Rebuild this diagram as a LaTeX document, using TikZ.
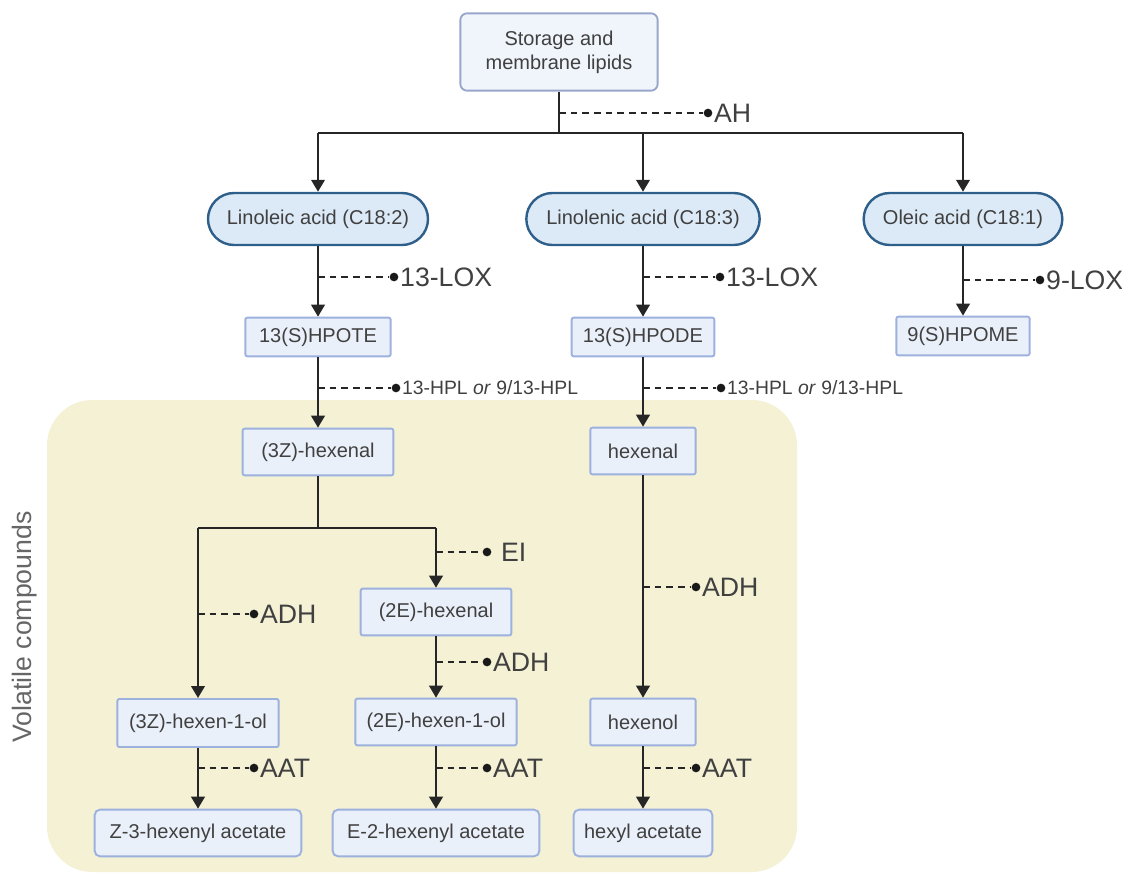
\documentclass[tikz,border=0pt]{standalone}
\usepackage{fontspec}
\setmainfont{Liberation Sans}
\usetikzlibrary{arrows.meta,positioning,shapes.misc}

\definecolor{cmpdfill}{HTML}{EAF0FA}
\definecolor{cmpdline}{HTML}{9CB1DE}
\definecolor{acidfill}{HTML}{DCE9F6}
\definecolor{acidline}{HTML}{2E5E8A}
\definecolor{volfill}{HTML}{F4F1D5}
\definecolor{labeltxt}{HTML}{404040}

\tikzset{
	cmpd/.style={draw=cmpdline, fill=cmpdfill, line width=1.4pt, rounded corners=1.5pt,
		inner sep=0pt, minimum height=29pt, text=labeltxt, font=\fontsize{15}{18}\selectfont},
	acid/.style={rounded rectangle, draw=acidline, fill=acidfill, line width=1.8pt,
		inner sep=0pt, minimum height=39pt, text=labeltxt, font=\fontsize{15}{18}\selectfont},
	flow/.style={draw=black!85, line width=2pt, -{Triangle[width=10pt,length=9pt]}},
	bar/.style={draw=black!85, line width=2pt},
	enzline/.style={draw=black!85, line width=1.6pt, dash pattern=on 5pt off 3.75pt},
	enzdot/.style={circle, fill=black!90, inner sep=0pt, minimum size=6.5pt},
	enz/.style={anchor=west, inner sep=0pt, text=labeltxt, font=\fontsize{20}{24}\selectfont},
	hpl/.style={anchor=west, inner sep=0pt, text=labeltxt, font=\fontsize{14.5}{17}\selectfont}
}

\begin{document}
\begin{tikzpicture}[x=0.75pt,y=-0.75pt]
		\useasboundingbox (0,0) rectangle (1122,874);

		% Volatile compounds background
		\fill[volfill, rounded corners=34pt] (47,400) rectangle (797,872);
		\node[rotate=90, text=black!60, font=\fontsize{20}{24}\selectfont] (vol) at (25,627) {Volatile compounds};

		% Lipids and fatty acids
		\node[cmpd, rounded corners=5pt, minimum width=148pt, minimum height=58pt, align=center,
			fill=cmpdfill!70, draw=cmpdline!80!gray] (lipids) at (559,52) {Storage and\\membrane lipids};

		\node[acid, minimum width=165pt] (linoleic) at (318,219) {Linoleic acid (C18:2)};
		\node[acid, minimum width=175pt] (linolenic) at (643,219) {Linolenic acid (C18:3)};
		\node[acid, minimum width=149pt] (oleic) at (963,219) {Oleic acid (C18:1)};

		% Hydroperoxides
		\node[cmpd, minimum width=109pt] (hpote) at (318,337) {13(S)HPOTE};
		\node[cmpd, minimum width=107pt] (hpode) at (643,337) {13(S)HPODE};
		\node[cmpd, minimum width=100pt] (hpome) at (963,336) {9(S)HPOME};

		% Aldehydes, alcohols, esters
		\node[cmpd, minimum width=113pt, minimum height=35pt] (zhexenal) at (318,452) {(3Z)-hexenal};
		\node[cmpd, minimum width=79pt, minimum height=35pt] (hexenal) at (643,451) {hexenal};
		\node[cmpd, minimum width=113pt, minimum height=35pt] (ehexenal) at (436,612) {(2E)-hexenal};
		\node[cmpd, minimum width=121pt, minimum height=36pt] (zhexenol) at (198,723) {(3Z)-hexen-1-ol};
		\node[cmpd, minimum width=121pt, minimum height=35pt] (ehexenol) at (436,722) {(2E)-hexen-1-ol};
		\node[cmpd, minimum width=79pt, minimum height=35pt] (hexenol) at (643,722) {hexenol};
		\node[cmpd, rounded corners=4pt, minimum width=155pt, minimum height=35pt] (zacet) at (198,833) {Z-3-hexenyl acetate};
		\node[cmpd, rounded corners=4pt, minimum width=155pt, minimum height=35pt] (eacet) at (436,833) {E-2-hexenyl acetate};
		\node[cmpd, rounded corners=4pt, minimum width=104pt, minimum height=35pt] (hacet) at (643,833) {hexyl acetate};

		% Branch points
		\coordinate (split) at (559,133);
		\coordinate (fork) at (318,528);

		% Connectors
		\draw[bar] (lipids.south) -- (split);
		\draw[bar] (linoleic |- split) -- (oleic |- split);
		\draw[flow] (linoleic |- split) -- (linoleic.north);
		\draw[flow] (linolenic |- split) -- (linolenic.north);
		\draw[flow] (oleic |- split) -- (oleic.north);

		\draw[flow] (linoleic.south) -- (hpote.north);
		\draw[flow] (linolenic.south) -- (hpode.north);
		\draw[flow] (oleic.south) -- (hpome.north);
		\draw[flow] (hpote.south) -- (zhexenal.north);
		\draw[flow] (hpode.south) -- (hexenal.north);

		\draw[bar] (zhexenal.south) -- (fork);
		\draw[bar] (zhexenol |- fork) -- (ehexenal |- fork);
		\draw[flow] (zhexenol |- fork) -- (zhexenol.north);
		\draw[flow] (ehexenal |- fork) -- (ehexenal.north);
		\draw[flow] (ehexenal.south) -- (ehexenol.north);
		\draw[flow] (hexenal.south) -- (hexenol.north);
		\draw[flow] (zhexenol.south) -- (zacet.north);
		\draw[flow] (ehexenol.south) -- (eacet.north);
		\draw[flow] (hexenol.south) -- (hacet.north);

		% Enzymes
		\node[enzdot] (dah) at (708,113) {};
		\node[enz, right=1pt of dah] (ah) {AH};
		\draw[enzline] (lipids |- dah) -- (dah);

		\node[enzdot] (dlox1) at (394,277) {};
		\node[enz, right=1pt of dlox1] (lox1) {13-LOX};
		\draw[enzline] (linoleic |- dlox1) -- (dlox1);

		\node[enzdot] (dlox2) at (720,277) {};
		\node[enz, right=1pt of dlox2] (lox2) {13-LOX};
		\draw[enzline] (linolenic |- dlox2) -- (dlox2);

		\node[enzdot] (dlox3) at (1040,280) {};
		\node[enz, right=1pt of dlox3] (lox3) {9-LOX};
		\draw[enzline] (oleic |- dlox3) -- (dlox3);

		\node[enzdot] (dhpl1) at (396,388) {};
		\node[hpl, right=1pt of dhpl1] (hpl1) {13-HPL \textit{or} 9/13-HPL};
		\draw[enzline] (hpote |- dhpl1) -- (dhpl1);

		\node[enzdot] (dhpl2) at (721,388) {};
		\node[hpl, right=1pt of dhpl2] (hpl2) {13-HPL \textit{or} 9/13-HPL};
		\draw[enzline] (hpode |- dhpl2) -- (dhpl2);

		\node[enzdot] (dei) at (487,552) {};
		\node[enz, right=7pt of dei] (ei) {EI};
		\draw[enzline] (ehexenal |- dei) -- (dei);

		\node[enzdot] (dadh1) at (254,614) {};
		\node[enz, right=1pt of dadh1] (adh1) {ADH};
		\draw[enzline] (zhexenol |- dadh1) -- (dadh1);

		\node[enzdot] (dadh2) at (487,662) {};
		\node[enz, right=1pt of dadh2] (adh2) {ADH};
		\draw[enzline] (ehexenal |- dadh2) -- (dadh2);

		\node[enzdot] (dadh3) at (696,587) {};
		\node[enz, right=1pt of dadh3] (adh3) {ADH};
		\draw[enzline] (hexenal |- dadh3) -- (dadh3);

		\node[enzdot] (daat1) at (254,768) {};
		\node[enz, right=1pt of daat1] (aat1) {AAT};
		\draw[enzline] (zhexenol |- daat1) -- (daat1);

		\node[enzdot] (daat2) at (487,768) {};
		\node[enz, right=1pt of daat2] (aat2) {AAT};
		\draw[enzline] (ehexenol |- daat2) -- (daat2);

		\node[enzdot] (daat3) at (696,768) {};
		\node[enz, right=1pt of daat3] (aat3) {AAT};
		\draw[enzline] (hexenol |- daat3) -- (daat3);

\end{tikzpicture}
\end{document}
